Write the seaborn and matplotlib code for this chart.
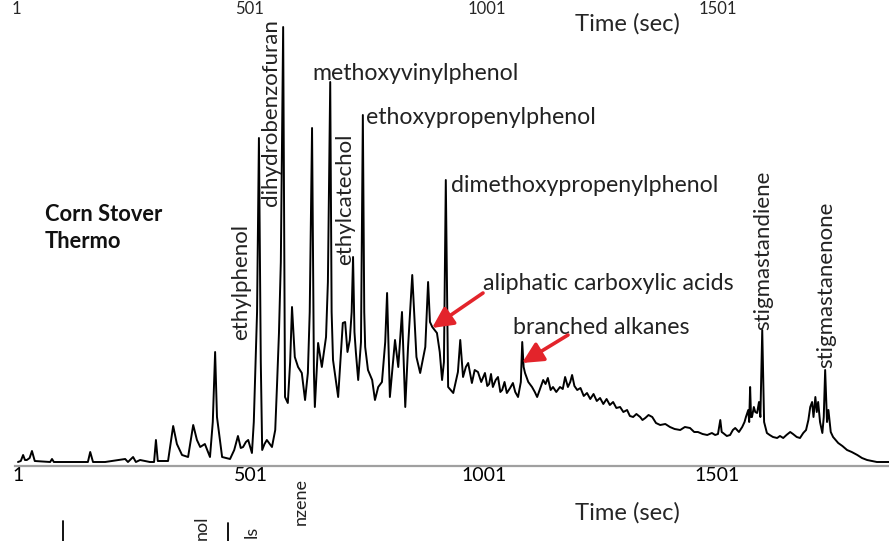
import numpy as np
import pandas as pd
import matplotlib
matplotlib.use("Agg")
import matplotlib.pyplot as plt
import seaborn as sns
from matplotlib.lines import Line2D

# ---------------- data ----------------
time_sec = [1, 7, 12, 16, 20, 26, 31, 37, 70, 74, 78, 151, 156, 162, 188, 231, 237, 248, 254, 263,
            284, 293, 297, 301, 323, 334, 342, 353, 366, 377, 385, 392, 402, 413, 419, 424, 428, 439,
            456, 465, 473, 479, 484, 490, 495, 503, 507, 514, 518, 522, 525, 530, 535, 546, 553, 557,
            561, 565, 570, 574, 580, 585, 589, 595, 602, 610, 617, 623, 627, 632, 636, 638, 645, 653,
            662, 666, 671, 674, 677, 688, 698, 703, 708, 713, 717, 720, 723, 726, 731, 737, 741, 744,
            746, 752, 761, 767, 774, 782, 789, 793, 799, 810, 817, 825, 832, 838, 847, 856, 864, 875,
            881, 885, 890, 900, 906, 911, 915, 919, 924, 935, 945, 950, 956, 962, 967, 975, 981, 988,
            995, 1003, 1008, 1012, 1016, 1020, 1026, 1031, 1036, 1040, 1045, 1050, 1057, 1063, 1068,
            1074, 1080, 1083, 1086, 1089, 1096, 1104, 1110, 1115, 1122, 1128, 1133, 1138, 1144, 1149,
            1156, 1164, 1170, 1175, 1181, 1186, 1190, 1195, 1201, 1208, 1215, 1222, 1229, 1236, 1243,
            1250, 1257, 1264, 1271, 1278, 1285, 1293, 1300, 1308, 1314, 1321, 1328, 1336, 1341, 1347,
            1354, 1362, 1370, 1379, 1390, 1400, 1410, 1422, 1432, 1443, 1452, 1460, 1470, 1480, 1490,
            1497, 1503, 1508, 1511, 1514, 1522, 1529, 1535, 1540, 1548, 1555, 1560, 1563, 1568, 1570,
            1572, 1574, 1576, 1580, 1583, 1587, 1591, 1594, 1598, 1602, 1608, 1614, 1621, 1630, 1636,
            1643, 1650, 1658, 1664, 1672, 1679, 1686, 1692, 1697, 1701, 1705, 1708, 1712, 1715, 1718,
            1722, 1727, 1730, 1733, 1737, 1740, 1745, 1750, 1761, 1770, 1780, 1790, 1802, 1812, 1823,
            1844, 1870]
intensity = [0, 1, 7, 2, 2, 4, 11, 1, 0, 3, 0, 0, 10, 0, 0, 3, 0, 5, 0, 2,
             0, 0, 22, 1, 1, 36, 18, 7, 5, 37, 22, 15, 18, 5, 40, 110, 45, 5,
             3, 12, 26, 14, 15, 20, 22, 9, 40, 150, 324, 100, 12, 18, 22, 15, 32, 79,
             129, 200, 435, 65, 59, 100, 155, 105, 95, 89, 62, 89, 150, 334, 90, 55, 119, 95,
             125, 180, 380, 150, 102, 65, 139, 140, 110, 122, 150, 205, 130, 110, 82, 120, 347, 150,
             115, 92, 82, 62, 75, 80, 120, 169, 65, 122, 95, 150, 55, 115, 187, 105, 89, 115,
             180, 140, 135, 129, 110, 82, 100, 282, 75, 69, 90, 122, 85, 95, 99, 79, 92, 90,
             80, 89, 76, 78, 88, 75, 82, 85, 70, 72, 80, 69, 74, 79, 70,
             65, 80, 120, 95, 89, 80, 75, 70, 65, 74, 82, 78, 84, 72, 75,
             70, 75, 73, 85, 75, 80, 87, 76, 72, 74, 66, 69, 63, 68, 61,
             64, 58, 63, 57, 60, 54, 55, 50, 52, 46, 45, 48, 45, 42, 44,
             47, 45, 39, 37, 38, 35, 33, 32, 35, 34, 30, 30, 28, 27, 29,
             27, 28, 42, 30, 29, 26, 27, 32, 34, 30, 35, 40, 45, 52, 40,
             75, 45, 45, 55, 50, 49, 60, 45, 132, 40, 29, 27, 25, 24, 26,
             24, 27, 30, 28, 25, 24, 29, 32, 42, 55, 60, 45, 65, 50, 60,
             40, 29, 45, 92, 40, 52, 30, 25, 19, 16, 12, 10, 7, 4, 2,
             0, 0]

tick_values = list(range(1, 1802, 100))
tick_text = ["1", "501", "1001", "1501"]
tick_labels = [str(v) if str(v) in tick_text else "" for v in tick_values]

horizontal_labels = ["methoxyvinylphenol", "ethoxypropenylphenol", "dimethoxypropenylphenol",
                     "aliphatic carboxylic acids", "branched alkanes"]
vertical_labels = ["ethylphenol", "dihydrobenzofuran", "ethylcatechol",
                   "stigmastandiene", "stigmastanenone"]
panel_title = "Corn Stover\nThermo"
axis_title = "Time (sec)"
below_fragments = ["nol", "ls", "nzene"]

# ---------------- layout ----------------
sns.set_style("white")
plt.rcParams["font.family"] = ["Lato", "DejaVu Sans"]

W, H = 889, 541
fig = plt.figure(figsize=(W / 100, H / 100), dpi=100)
ax = fig.add_axes([15 / W, 1 - 466 / H, (W - 15) / W, 466 / H])

X0, X1 = -5.4, 1870.0


def P(x, y):
    """pixel position -> data coordinates"""
    return (X0 + (x - 15) / (W - 15) * (X1 - X0), 462 - y)


def F(x, y):
    """pixel position -> figure fraction"""
    return (x / W, 1 - y / H)


df = pd.DataFrame({"Time (sec)": time_sec, "Signal": intensity})
sns.lineplot(data=df, x="Time (sec)", y="Signal", ax=ax, color="black",
             lw=1.4, estimator=None, sort=False)
ax.set_xlim(X0, X1)
ax.set_ylim(-4, 462)
ax.set_xlabel("")
ax.set_ylabel("")
ax.set_yticks([])
for s in ["top", "right", "left"]:
    ax.spines[s].set_visible(False)
ax.spines["bottom"].set_color("#a0a0a0")
ax.spines["bottom"].set_linewidth(1.6)
ax.set_xticks(tick_values)
ax.set_xticklabels(tick_labels)
ax.tick_params(axis="x", direction="out", length=5, width=1.2, color="#a0a0a0",
               labelsize=14, pad=-4, labelcolor="black")
ax.patch.set_alpha(0)

fig.canvas.draw()
r = fig.canvas.get_renderer()


def fitted_size(t, target, dim):
    bb = t.get_window_extent(r)
    cur = bb.width if dim == "w" else bb.height
    return t.get_fontsize() * target / cur


# horizontal peak labels: (left x, centre y, target width)
hpos = [(312, 73, 243), (366, 118, 232), (451, 185, 268), (483, 283, 252), (513, 328, 177)]
htexts = []
for lab, (x, y, w) in zip(horizontal_labels, hpos):
    t = ax.text(*P(x, y), lab, ha="left", va="center", fontsize=14, color="#222222")
    htexts.append((t, w))
fig.canvas.draw()
hs = float(np.median([fitted_size(t, w, "w") for t, w in htexts]))
for t, _ in htexts:
    t.set_fontsize(hs)

# vertical peak labels: (centre x, bottom y, target length)
vpos = [(241, 340, 105), (271, 206, 185), (345, 265, 122), (763, 330, 163), (826, 368, 175)]
vtexts = []
for lab, (x, y, h) in zip(vertical_labels, vpos):
    t = ax.text(*P(x, y), lab, ha="center", va="bottom", rotation=90, fontsize=13,
                color="#222222")
    vtexts.append((t, h))
fig.canvas.draw()
vs = float(np.median([fitted_size(t, h, "h") for t, h in vtexts]))
for t, _ in vtexts:
    t.set_fontsize(vs)

tt = ax.text(*P(45, 228), panel_title, ha="left", va="center", fontsize=15,
             fontweight="bold", linespacing=1.3, color="#111111")
fig.canvas.draw()
tt.set_fontsize(fitted_size(tt, 118, "w"))

# red arrows
for tail, head in [((483, 293), (432, 328)), ((568, 335), (522, 363))]:
    ax.annotate("", xy=P(*head), xytext=P(*tail),
                arrowprops=dict(arrowstyle="-|>,head_width=0.45,head_length=0.9",
                                color="#e3242b", lw=2.6, shrinkA=0, shrinkB=0,
                                mutation_scale=14))

# axis title of this panel and the one above
titles = [fig.text(*F(627, 513), axis_title, ha="center", va="center", fontsize=14),
          fig.text(*F(627, 24), axis_title, ha="center", va="center", fontsize=14)]
fig.canvas.draw()
for t in titles:
    t.set_fontsize(fitted_size(t, 105, "w"))

# tick-label fragments of the panel above
for lab, x in zip(tick_text, [16, 250, 487, 718]):
    fig.text(*F(x, 1), lab, ha="center", va="top", fontsize=12)

# fragments of the panel below
for lab, x, ytop in zip(below_fragments, [202, 252, 301], [516, 526, 478]):
    fig.text(*F(x, ytop), lab, ha="center", va="top", rotation=90, fontsize=13,
             color="#222222")
for x, ytop in [(63, 521), (228, 523)]:
    fig.add_artist(Line2D([x / W, x / W], [0, 1 - ytop / H], color="black", lw=1.3,
                          transform=fig.transFigure))

fig.savefig("out.png", dpi=100)
